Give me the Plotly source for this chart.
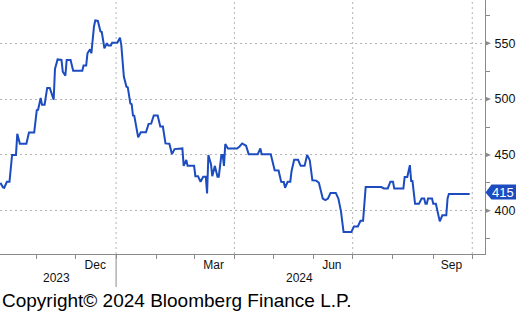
import plotly.graph_objects as go

dates = ["2023-10-04","2023-10-06","2023-10-07","2023-10-09","2023-10-11","2023-10-13","2023-10-16","2023-10-17","2023-10-19","2023-10-24","2023-10-26","2023-10-30",
 "2023-11-01","2023-11-02","2023-11-04","2023-11-05","2023-11-07","2023-11-09","2023-11-11","2023-11-14","2023-11-15","2023-11-17","2023-11-20","2023-11-21","2023-11-23","2023-11-24","2023-11-27","2023-11-29",
 "2023-12-06","2023-12-07","2023-12-09","2023-12-10","2023-12-12","2023-12-13","2023-12-15","2023-12-16","2023-12-18","2023-12-20","2023-12-21","2023-12-23","2023-12-25","2023-12-26","2023-12-28","2023-12-29",
 "2024-01-02","2024-01-04","2024-01-05","2024-01-07","2024-01-09","2024-01-10","2024-01-12","2024-01-13","2024-01-14","2024-01-15","2024-01-18","2024-01-20","2024-01-24","2024-01-26","2024-01-28","2024-01-30",
 "2024-02-02","2024-02-04","2024-02-06","2024-02-08","2024-02-11","2024-02-13","2024-02-15","2024-02-21","2024-02-22","2024-02-24","2024-02-25",
 "2024-03-01","2024-03-02","2024-03-04","2024-03-06","2024-03-08","2024-03-10","2024-03-11","2024-03-12","2024-03-14","2024-03-15","2024-03-17","2024-03-19","2024-03-20","2024-03-22","2024-03-23","2024-03-24","2024-03-25","2024-03-27",
 "2024-04-03","2024-04-05","2024-04-07","2024-04-10","2024-04-12","2024-04-19","2024-04-21","2024-04-22","2024-04-29",
 "2024-05-02","2024-05-05","2024-05-07","2024-05-09","2024-05-10","2024-05-12","2024-05-14","2024-05-15","2024-05-17","2024-05-20","2024-05-22","2024-05-25","2024-05-27","2024-05-29","2024-05-31",
 "2024-06-03","2024-06-05","2024-06-08","2024-06-10","2024-06-12","2024-06-14","2024-06-18","2024-06-20","2024-06-22","2024-06-24","2024-06-30",
 "2024-07-02","2024-07-05","2024-07-07","2024-07-09","2024-07-11","2024-07-23","2024-07-25","2024-07-28","2024-07-30",
 "2024-08-01","2024-08-02","2024-08-09","2024-08-10","2024-08-12","2024-08-14","2024-08-15","2024-08-16","2024-08-18","2024-08-21","2024-08-23","2024-08-25","2024-08-26","2024-08-27","2024-08-28","2024-08-31",
 "2024-09-01","2024-09-03","2024-09-05","2024-09-06","2024-09-08","2024-09-11","2024-09-12","2024-09-13","2024-09-29"]

values = [425,421,420.6,426,426,450,450,469,460,460,470,470,
 490,490.5,501,495,495,510,510,499.5,527,535.5,535,524.5,521,535,535,525.3,
 525.3,530,530,541,544.6,541,565,570.4,570,560.5,560,545.5,550,548,548,550.5,
 550.5,555,548.5,520,511,510.5,496,495.5,485.3,485,465.7,470.2,470.2,477.8,478,485.3,
 485.3,475.4,475.4,460.3,460,450.7,455.2,455.8,440.2,445.6,440.2,
 440.2,431,431,426,430.5,430.5,415.5,450,441.7,431,440.2,430.5,430.5,450,450,440.2,459.7,455.8,
 455.8,457.6,460.3,458.2,450.7,450.7,455.8,450.7,450.7,
 436.3,436,426,425.8,420.6,426,426,435.7,445.6,445.6,440.2,440.2,450,445.3,427.3,
 427,425.1,411,409.6,411,416,416,411,399.5,381,381,
 386,386,391,391,421.2,421.2,420,420,426,
 426,420,420,430.2,430.2,440.8,426.6,426.6,406.2,406.2,411,411,406.2,406.2,411,411,
 406.2,406.2,395,390.5,396,396,411,415,415]
assert len(dates) == len(values)

last_value = 415
y_major = [400, 450, 500, 550]

month_label_dates = ["2023-12-16", "2024-03-16", "2024-06-15", "2024-09-15"]
month_labels = ["Dec", "Mar", "Jun", "Sep"]
month_starts = ["2023-11-01","2023-12-01","2024-01-01","2024-02-01","2024-03-01","2024-04-01",
                "2024-05-01","2024-06-01","2024-07-01","2024-08-01","2024-09-01","2024-10-01"]
quarter_grid = ["2024-01-01", "2024-04-01", "2024-07-01", "2024-10-01"]
year_label_dates = ["2023-11-16", "2024-05-21"]
year_labels = ["2023", "2024"]
year_break = "2024-01-01"

LINE = "#1c4cc0"
GRID = "#b4b4b4"
AX = "#8a8a8a"
FONT = "Liberation Sans"

fig = go.Figure()
fig.add_trace(go.Scatter(x=dates, y=values, mode="lines",
                         line=dict(color=LINE, width=2), showlegend=False, hoverinfo="skip"))

for q in quarter_grid:
    fig.add_vline(x=q, line=dict(color=GRID, width=1, dash="2px,3px"), layer="below")

# triangle tick markers on the right axis
for v in y_major:
    fig.add_shape(type="path", xref="paper", yref="y", xsizemode="pixel", ysizemode="pixel",
                  xanchor=1, yanchor=v, path="M0,-2.6 L6,0 L0,2.6 Z",
                  fillcolor=AX, line=dict(width=0))

# last-value tag
fig.add_shape(type="path", xref="paper", yref="y", xsizemode="pixel", ysizemode="pixel",
              xanchor=1, yanchor=last_value, path="M0.5,1.5 L6.5,9.5 L31,9.5 L31,-5.5 L6.5,-5.5 Z",
              fillcolor=LINE, line=dict(width=0))

fig.add_shape(type="line", x0=year_break, x1=year_break, xref="x", yref="paper", y0=0, y1=-0.13,
              line=dict(color=AX, width=1))

for d, t in zip(year_label_dates, year_labels):
    fig.add_annotation(x=d, y=-0.093, xref="x", yref="paper", text=t, showarrow=False,
                       yanchor="middle", font=dict(family=FONT, size=12, color="#111"))

fig.add_annotation(x=1, xref="paper", xanchor="left", xshift=5, y=last_value, yref="y", yshift=2,
                   text=str(last_value), showarrow=False, borderpad=1,
                   font=dict(family=FONT, size=13, color="white"))

fig.add_annotation(x=0, xref="paper", xanchor="left", xshift=0, y=-0.185, yref="paper",
                   yanchor="middle", text="Copyright\u00a9 2024 Bloomberg Finance L.P.",
                   showarrow=False, font=dict(family=FONT, size=19, color="#000"))

fig.update_layout(
    width=518, height=314,
    margin=dict(l=0, r=33, t=0, b=60),
    paper_bgcolor="white", plot_bgcolor="white",
    xaxis=dict(type="date", range=["2023-10-03 17:00", "2024-10-10 19:00"],
               tickmode="array", tickvals=month_label_dates, ticktext=month_labels,
               ticks="", showgrid=False, zeroline=False,
               showline=True, linecolor=AX, linewidth=1,
               tickfont=dict(family=FONT, size=12, color="#111"),
               minor=dict(tickmode="array", tickvals=month_starts, ticks="outside",
                          ticklen=4, tickcolor=AX, showgrid=False)),
    yaxis=dict(side="right", range=[361.3, 588.7], tickmode="array", tickvals=y_major,
               ticks="", showgrid=True, gridcolor=GRID, griddash="2px,3px", gridwidth=1,
               zeroline=False, showline=True, linecolor=AX, linewidth=1,
               ticklabelstandoff=6,
               tickfont=dict(family=FONT, size=12.5, color="#111"),
               minor=dict(tickmode="linear", tick0=375, dtick=50, ticks="outside",
                          ticklen=4, tickcolor=AX, showgrid=False)),
)

fig.write_html("out.html")
